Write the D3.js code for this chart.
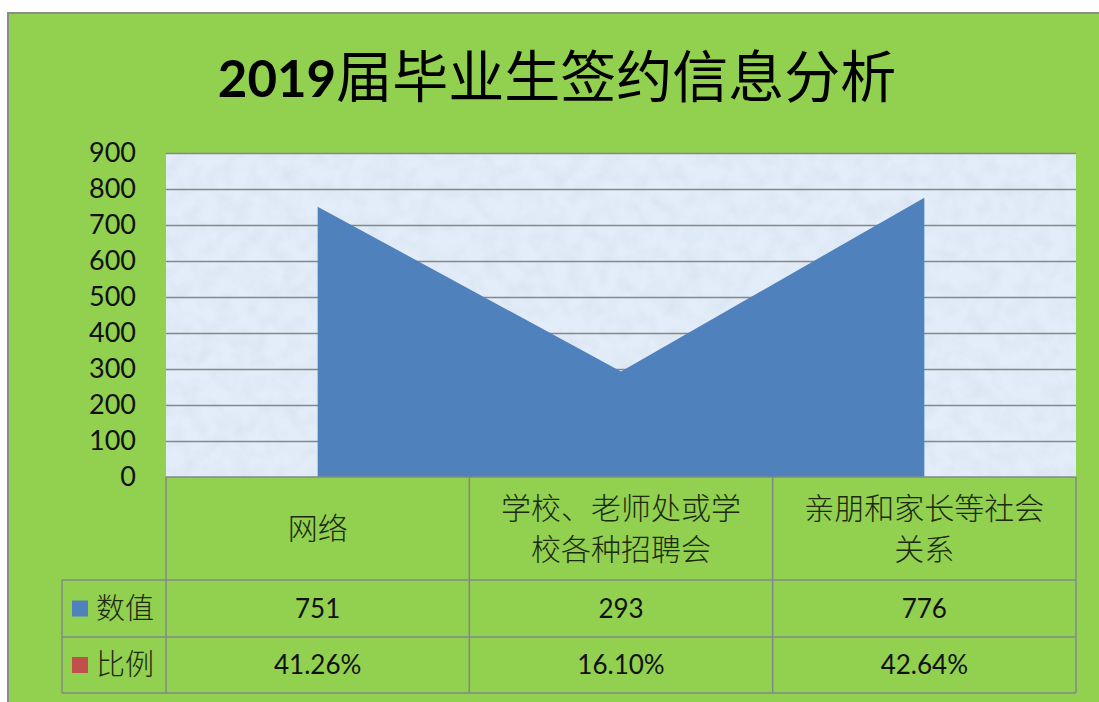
<!DOCTYPE html>
<html>
<head>
<meta charset="utf-8">
<script src="https://cdn.jsdelivr.net/npm/d3@7"></script>
<style>
  html, body { margin: 0; padding: 0; background: #ffffff; }
  svg { display: block; }
</style>
</head>
<body>
<script>
// chart data
const categories = ['网络', '学校、老师处或学校各种招聘会', '亲朋和家长等社会关系'];
const categoryLines = [['网络'], ['学校、老师处或学', '校各种招聘会'], ['亲朋和家长等社会', '关系']];
const values = [751, 293, 776];
const ratios = ['41.26%', '16.10%', '42.64%'];
const yTicks = [0, 100, 200, 300, 400, 500, 600, 700, 800, 900];
const seriesNames = ['数值', '比例'];
const seriesColors = ['#4f81bd', '#c0504d'];

const WIDTH = 1099;
const HEIGHT = 702;
const PLOT_LEFT = 166, PLOT_RIGHT = 1076, PLOT_TOP = 153, PLOT_BOTTOM = 477;
const TABLE_LEFT = 62;
const ROW_BOTTOMS = [580, 637, 693];  // category row, 数值 row, 比例 row
const GREEN = '#92d050';
const LINE_GRAY = '#808a8a';
const LATIN = 'Lato, "Liberation Sans", sans-serif';
const CJK = '"Noto Sans CJK SC", sans-serif';

var svg = d3.select('body')
    .append('svg')
    .attr('width', WIDTH)
    .attr('height', HEIGHT);

// paper-ish texture for the plot area
var defs = svg.append('defs');
var filter = defs.append('filter')
    .attr('id', 'paper')
    .attr('x', 0).attr('y', 0).attr('width', 1).attr('height', 1);
filter.append('feTurbulence')
    .attr('type', 'fractalNoise')
    .attr('baseFrequency', 0.06)
    .attr('numOctaves', 4)
    .attr('seed', 7);
filter.append('feColorMatrix')
    .attr('type', 'matrix')
    .attr('values', '0 0 0 0 0.70  0 0 0 0 0.78  0 0 0 0 0.88  1.8 0 0 0 -0.66');

// outer chart frame
svg.append('rect')
    .attr('x', 8).attr('y', 13)
    .attr('width', WIDTH + 10).attr('height', HEIGHT)
    .attr('fill', GREEN)
    .attr('stroke', '#8c8c8c')
    .attr('stroke-width', 2);

// title
var title = svg.append('text')
    .attr('x', 557)
    .attr('y', 97)
    .attr('text-anchor', 'middle')
    .attr('fill', '#000');
title.append('tspan')
    .style('font-family', LATIN)
    .style('font-weight', 'bold')
    .style('font-size', '51px')
    .text('2019');
title.append('tspan')
    .style('font-family', CJK)
    .style('font-weight', 'normal')
    .style('font-size', '56px')
    .text('届毕业生签约信息分析');

// scales
var x = d3.scalePoint()
    .domain(categories)
    .range([PLOT_LEFT, PLOT_RIGHT])
    .padding(0.5);
var col = d3.scaleBand()
    .domain(categories)
    .range([PLOT_LEFT, PLOT_RIGHT]);
var y = d3.scaleLinear()
    .domain([0, 900])
    .range([PLOT_BOTTOM, PLOT_TOP]);

// plot area background
svg.append('rect')
    .attr('x', PLOT_LEFT).attr('y', PLOT_TOP)
    .attr('width', PLOT_RIGHT - PLOT_LEFT).attr('height', PLOT_BOTTOM - PLOT_TOP)
    .attr('fill', '#e2edf9');
svg.append('rect')
    .attr('x', PLOT_LEFT).attr('y', PLOT_TOP)
    .attr('width', PLOT_RIGHT - PLOT_LEFT).attr('height', PLOT_BOTTOM - PLOT_TOP)
    .attr('filter', 'url(#paper)');

// gridlines
svg.append('g')
    .selectAll('line')
    .data(yTicks.filter(t => t > 0))
    .enter()
    .append('line')
    .attr('x1', PLOT_LEFT).attr('x2', PLOT_RIGHT)
    .attr('y1', d => y(d) + 0.5).attr('y2', d => y(d) + 0.5)
    .attr('stroke', '#868686')
    .attr('stroke-width', 1.5);

// the area series
var area = d3.area()
    .x((d, i) => x(categories[i]))
    .y0(y(0))
    .y1(d => y(d));
svg.append('path')
    .datum(values)
    .attr('d', area)
    .attr('fill', seriesColors[0]);

// y axis labels
var yAxis = svg.append('g')
    .attr('transform', `translate(${PLOT_LEFT - 30},0)`)
    .call(d3.axisLeft(y).tickValues(yTicks).tickSize(0).tickPadding(0));
yAxis.select('.domain').remove();
yAxis.selectAll('text')
    .style('font-family', LATIN)
    .style('font-size', '27px')
    .attr('fill', '#111');

// data table lines
var table = svg.append('g')
    .attr('stroke', LINE_GRAY)
    .attr('stroke-width', 1.5);
table.append('line')
    .attr('x1', PLOT_LEFT).attr('x2', PLOT_RIGHT)
    .attr('y1', PLOT_BOTTOM).attr('y2', PLOT_BOTTOM);
ROW_BOTTOMS.forEach(function(rb) {
    table.append('line')
        .attr('x1', TABLE_LEFT).attr('x2', PLOT_RIGHT)
        .attr('y1', rb).attr('y2', rb);
});
categories.forEach(function(c) {
    table.append('line')
        .attr('x1', col(c)).attr('x2', col(c))
        .attr('y1', PLOT_BOTTOM).attr('y2', ROW_BOTTOMS[2]);
});
table.append('line')
    .attr('x1', PLOT_RIGHT).attr('x2', PLOT_RIGHT)
    .attr('y1', PLOT_BOTTOM).attr('y2', ROW_BOTTOMS[2]);
table.append('line')
    .attr('x1', TABLE_LEFT).attr('x2', TABLE_LEFT)
    .attr('y1', ROW_BOTTOMS[0]).attr('y2', ROW_BOTTOMS[2]);

// category labels
const LINE_HEIGHT = 41;
categories.forEach(function(c, i) {
    var lines = categoryLines[i];
    var mid = (PLOT_BOTTOM + ROW_BOTTOMS[0]) / 2;
    var first = mid - (lines.length - 1) * LINE_HEIGHT / 2;
    lines.forEach(function(line, j) {
        svg.append('text')
            .attr('x', x(c))
            .attr('y', first + j * LINE_HEIGHT)
            .attr('dy', '0.36em')
            .attr('text-anchor', 'middle')
            .style('font-family', CJK)
            .style('font-weight', 300)
            .style('font-size', '30px')
            .attr('fill', '#1d2a10')
            .text(line);
    });
});

// value rows
var rows = [values.map(String), ratios];
rows.forEach(function(row, r) {
    var top = ROW_BOTTOMS[r];
    var mid = (top + ROW_BOTTOMS[r + 1]) / 2;
    // legend key
    svg.append('rect')
        .attr('x', 72).attr('y', mid - 8)
        .attr('width', 16).attr('height', 16)
        .attr('fill', seriesColors[r]);
    svg.append('text')
        .attr('x', 96)
        .attr('y', mid)
        .attr('dy', '0.36em')
        .style('font-family', CJK)
        .style('font-weight', 300)
        .style('font-size', '29px')
        .attr('fill', '#1d2a10')
        .text(seriesNames[r]);
    row.forEach(function(v, i) {
        svg.append('text')
            .attr('x', x(categories[i]))
            .attr('y', mid)
            .attr('dy', '0.36em')
            .attr('text-anchor', 'middle')
            .style('font-family', LATIN)
            .style('font-size', '26px')
            .attr('fill', '#111')
            .text(v);
    });
});
</script>
</body>
</html>
